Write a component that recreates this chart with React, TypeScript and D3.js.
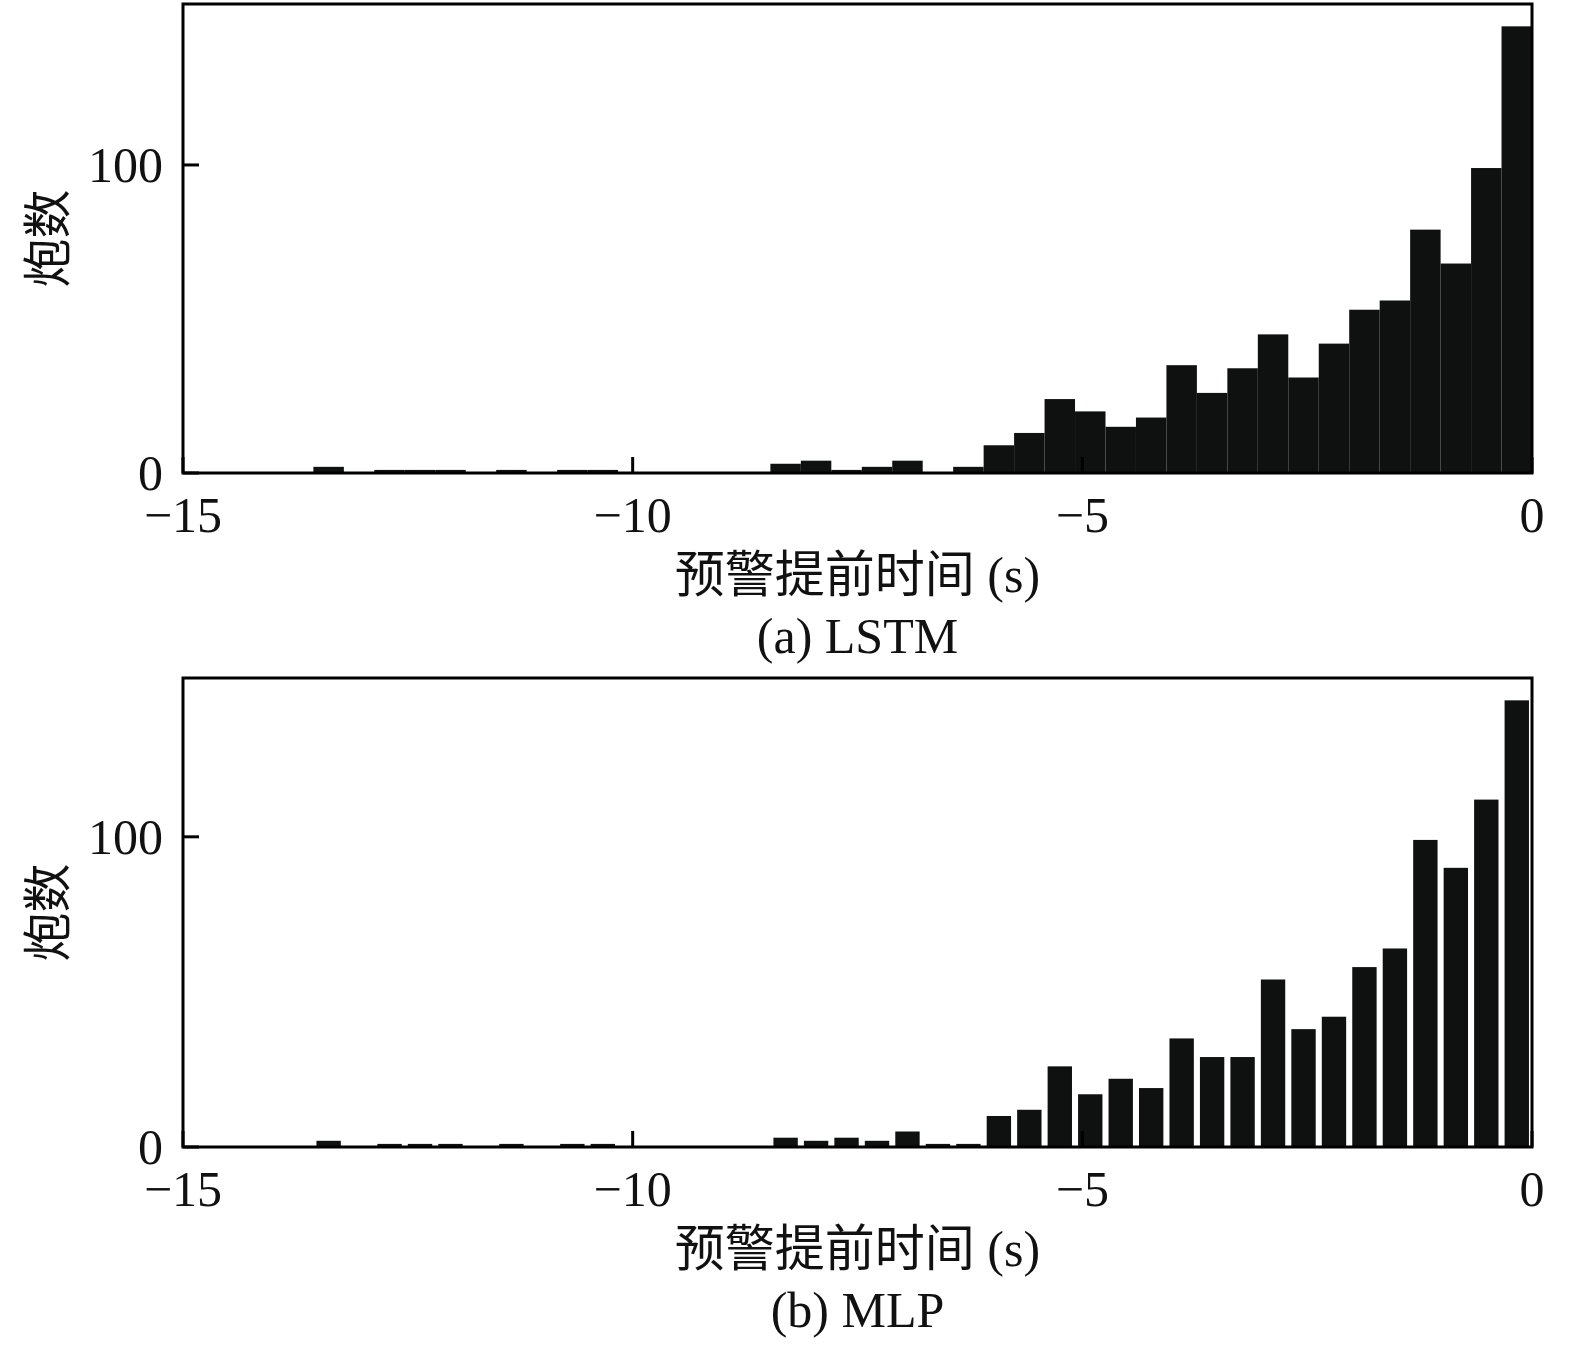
import { useEffect, useRef } from "react";
import * as d3 from "d3";

// histogram bins: 40 equal bins from the earliest warning to 0 s
const binStart = -13.55;
const binEnd = 0;

const lstmCounts = [
  2, 0, 1, 1, 1, 0, 1, 0, 1, 1,
  0, 0, 0, 0, 0, 3, 4, 1, 2, 4,
  0, 2, 9, 13, 24, 20, 15, 18, 35, 26,
  34, 45, 31, 42, 53, 56, 79, 68, 99, 145,
];

const mlpCounts = [
  2, 0, 1, 1, 1, 0, 1, 0, 1, 1,
  0, 0, 0, 0, 0, 3, 2, 3, 2, 5,
  1, 1, 10, 12, 26, 17, 22, 19, 35, 29,
  29, 54, 38, 42, 58, 64, 99, 90, 112, 144,
];

const xTicks = [-15, -10, -5, 0];
const yTicks = [0, 100];
const xTitle = "预警提前时间 (s)";
const yTitle = "炮数";
const captions = ["(a) LSTM", "(b) MLP"];

const width = 1575;
const height = 1358;
const serif = "'Liberation Serif', 'Times New Roman', serif";
const mixed = "'Liberation Serif', 'Noto Sans CJK SC', serif";
const barColor = "#0f1110";

const left = 183;
const right = 1532;
const plotH = 469;
const panelGap = 674;

const fmt = (v: number) => (v < 0 ? `\u2212${Math.abs(v)}` : `${v}`);

function drawPanel(
  svg: d3.Selection<SVGSVGElement, unknown, null, undefined>,
  counts: number[],
  caption: string,
  top: number,
  rwidth: number
) {
  const bottom = top + plotH;
  const x = d3.scaleLinear().domain([-15, 0]).range([left, right]);
  const y = d3
    .scaleLinear()
    .domain([0, (d3.max(counts) ?? 1) * 1.05])
    .range([bottom, top]);
  const step = (binEnd - binStart) / counts.length;

  const g = svg.append("g");

  g.selectAll("rect.bar")
    .data(counts)
    .join("rect")
    .attr("class", "bar")
    .attr("x", (_, i) => x(binStart + i * step + (step * (1 - rwidth)) / 2))
    .attr("width", x(binStart + step * rwidth) - x(binStart))
    .attr("y", (d) => y(d))
    .attr("height", (d) => bottom - y(d))
    .attr("fill", barColor);

  // frame
  g.append("rect")
    .attr("x", left)
    .attr("y", top)
    .attr("width", right - left)
    .attr("height", plotH)
    .attr("fill", "none")
    .attr("stroke", "#000")
    .attr("stroke-width", 3);

  // x ticks, pointing inward
  g.selectAll("line.xt")
    .data(xTicks)
    .join("line")
    .attr("class", "xt")
    .attr("x1", (d) => x(d))
    .attr("x2", (d) => x(d))
    .attr("y1", bottom)
    .attr("y2", bottom - 16)
    .attr("stroke", "#000")
    .attr("stroke-width", 3);

  g.selectAll("text.xl")
    .data(xTicks)
    .join("text")
    .attr("class", "xl")
    .attr("x", (d) => x(d))
    .attr("y", bottom + 59)
    .attr("text-anchor", "middle")
    .attr("font-family", serif)
    .attr("font-size", 50)
    .attr("fill", "#111")
    .text((d) => fmt(d));

  g.selectAll("line.yt")
    .data(yTicks)
    .join("line")
    .attr("class", "yt")
    .attr("x1", left)
    .attr("x2", left + 16)
    .attr("y1", (d) => y(d))
    .attr("y2", (d) => y(d))
    .attr("stroke", "#000")
    .attr("stroke-width", 3);

  g.selectAll("text.yl")
    .data(yTicks)
    .join("text")
    .attr("class", "yl")
    .attr("x", left - 20)
    .attr("y", (d) => y(d) + 17)
    .attr("text-anchor", "end")
    .attr("font-family", serif)
    .attr("font-size", 50)
    .attr("fill", "#111")
    .text((d) => fmt(d));

  const cx = (left + right) / 2;

  g.append("text")
    .attr("transform", `translate(48, ${top + plotH / 2}) rotate(-90)`)
    .attr("text-anchor", "middle")
    .attr("dominant-baseline", "central")
    .attr("font-family", mixed)
    .attr("font-size", 49)
    .attr("fill", "#111")
    .text(yTitle);

  g.append("text")
    .attr("x", cx)
    .attr("y", bottom + 119)
    .attr("text-anchor", "middle")
    .attr("font-family", mixed)
    .attr("font-size", 50)
    .attr("fill", "#111")
    .text(xTitle);

  g.append("text")
    .attr("x", cx)
    .attr("y", bottom + 180)
    .attr("text-anchor", "middle")
    .attr("font-family", serif)
    .attr("font-size", 50)
    .attr("fill", "#111")
    .text(caption);
}

const App = () => {
  const svgRef = useRef<SVGSVGElement>(null);

  useEffect(() => {
    if (!svgRef.current) return;
    const svg = d3.select(svgRef.current);
    svg.selectAll("*").remove();
    drawPanel(svg, lstmCounts, captions[0], 4, 1);
    drawPanel(svg, mlpCounts, captions[1], 4 + panelGap, 0.8);
  }, []);

  return (
    <div style={{ position: "absolute", left: 0, top: 0 }}>
      <svg
        ref={svgRef}
        width={width}
        height={height}
        style={{ display: "block", background: "#fff" }}
      />
    </div>
  );
};

export default App;
